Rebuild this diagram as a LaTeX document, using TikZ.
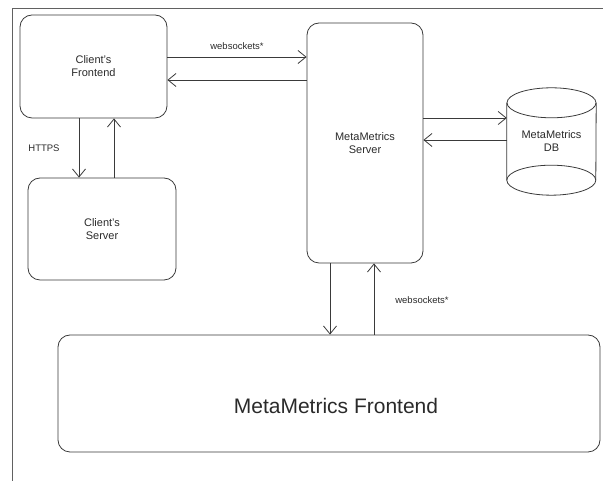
\documentclass[tikz,border=0pt]{standalone}
\usepackage{fontspec}
\setmainfont{Liberation Sans}
\usetikzlibrary{arrows.meta}
\definecolor{ink}{HTML}{3A3A3A}
\definecolor{txt}{HTML}{2A2A2A}
\tikzset{
  box/.style={draw=ink, line width=0.8pt, rounded corners=12pt, align=center,
              text=txt, font=\fontsize{11}{13}\selectfont, inner sep=0pt},
  link/.style={draw=ink, line width=0.8pt, -{Straight Barb[length=8pt,width=13pt]}},
  tag/.style={text=txt, font=\fontsize{9.5}{11}\selectfont},
}
\begin{document}
\begin{tikzpicture}[x=1pt,y=1pt]
  \useasboundingbox (0,0) rectangle (603,481);
  % outer frame (cut at right and bottom)
  \draw[ink!80, line width=1pt] (12,0) -- (12,472) -- (603,472);

  % boxes
  \node[box, minimum width=147pt, minimum height=103pt] (cf) at (93.5,414.5) {Client's\\Frontend};
  \node[box, minimum width=148pt, minimum height=102pt] (cs) at (102,252) {Client's\\Server};
  \node[box, minimum width=116pt, minimum height=240pt] (ms) at (365,338) {MetaMetrics\\Server};
  \node[box, minimum width=542pt, minimum height=117pt] (mf) at (329,87.5) {};
  \node[text=txt, font=\fontsize{21}{24}\selectfont] (mftext) at ([xshift=7pt,yshift=-13pt]mf.center) {MetaMetrics Frontend};

  % database cylinder
  \node[align=center, text=txt, font=\fontsize{11}{13}\selectfont, minimum width=89pt, minimum height=107pt, inner sep=0pt] (db) at (551.5,339.5) {MetaMetrics\\DB};
  \draw[ink, line width=0.8pt] ([yshift=-15pt]db.north west) -- ([yshift=15pt]db.south west)
        arc[start angle=180, end angle=360, x radius=44.5pt, y radius=15pt]
        -- ([yshift=-15pt]db.north east);
  \draw[ink, line width=0.8pt] ([yshift=-15pt]db.north) ellipse[x radius=44.5pt, y radius=15pt];
  \draw[ink, line width=0.8pt] ([yshift=15pt]db.south west)
        arc[start angle=180, end angle=0, x radius=44.5pt, y radius=15pt];

  % connectors
  \draw[link] (cf.east |- 0,424) -- (ms.west |- 0,424) node[tag, midway, above=4pt] {websockets*};
  \draw[link] (ms.west |- 0,401) -- (cf.east |- 0,401);
  \draw[link] (cf.south -| 79,0) -- (cs.north -| 79,0);
  \draw[link] (cs.north -| 114,0) -- (cf.south -| 114,0);
  \node[tag] (https) at (44,333) {HTTPS};
  \draw[link] (ms.east |- 0,363) -- (db.west |- 0,363);
  \draw[link] (db.west |- 0,341) -- (ms.east |- 0,341);
  \draw[link] (ms.south -| 330,0) -- (mf.north -| 330,0);
  \draw[link] (mf.north -| 374,0) -- (ms.south -| 374,0);
  \node[tag] (ws2) at (422,181) {websockets*};
\end{tikzpicture}
\end{document}
